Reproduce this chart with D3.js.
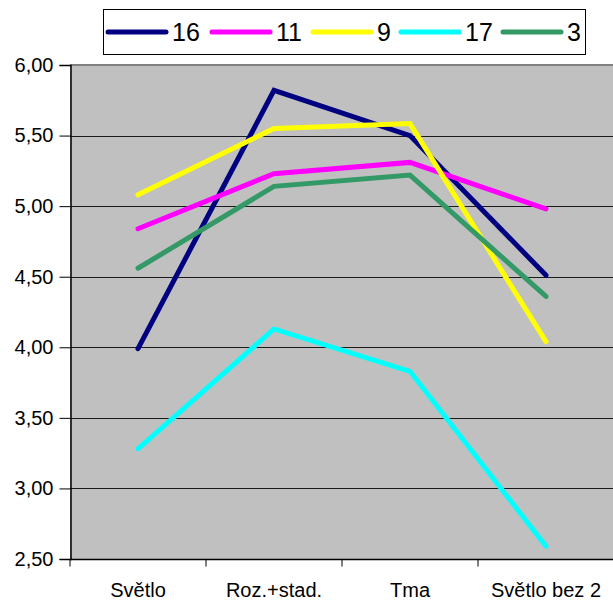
<!DOCTYPE html>
<html>
<head>
<meta charset="utf-8">
<script src="https://cdn.jsdelivr.net/npm/d3@7"></script>
<style>
  body { margin: 0; background: #fff; }
  svg { display: block; font-family: "Liberation Sans", Arial, sans-serif; }
</style>
</head>
<body>
<div id="chart"></div>
<script>
// categories and series
const categories = ["Světlo", "Roz.+stad.", "Tma", "Světlo bez 2"];
const seriesNames = ["16", "11", "9", "17", "3"];
const seriesColors = ["#000080", "#FF00FF", "#FFFF00", "#00FFFF", "#339966"];
const s16 = [3.99, 5.82, 5.50, 4.51];
const s11 = [4.84, 5.23, 5.31, 4.98];
const s9 = [5.08, 5.55, 5.585, 4.04];
const s17 = [3.28, 4.13, 3.83, 2.59];
const s3 = [4.56, 5.14, 5.22, 4.36];
const yTicks = [2.5, 3, 3.5, 4, 4.5, 5, 5.5, 6];

const seriesValues = [s16, s11, s9, s17, s3];

const width = 613, height = 600;
const plot = { left: 70, right: 614, top: 65, bottom: 559 };

const svg = d3.select("#chart").append("svg")
    .attr("width", width)
    .attr("height", height);

const x = d3.scaleBand()
    .domain(categories)
    .range([plot.left, plot.right])
    .padding(0);

const y = d3.scaleLinear()
    .domain([2.5, 6])
    .range([plot.bottom, plot.top]);

const fmt = v => v.toFixed(2).replace(".", ",");

// plot background
svg.append("rect")
    .attr("x", plot.left)
    .attr("y", plot.top)
    .attr("width", plot.right - plot.left)
    .attr("height", plot.bottom - plot.top)
    .attr("fill", "#C0C0C0");

// gridlines
svg.append("g")
    .selectAll("line")
    .data(yTicks.filter(d => d > 2.5 && d < 6))
    .join("line")
    .attr("x1", plot.left)
    .attr("x2", plot.right)
    .attr("y1", d => Math.round(y(d)) + 0.5)
    .attr("y2", d => Math.round(y(d)) + 0.5)
    .attr("stroke", "#1a1a1a")
    .attr("stroke-width", 1);

// top border of plot (grey)
svg.append("line")
    .attr("x1", plot.left)
    .attr("x2", plot.right)
    .attr("y1", y(6))
    .attr("y2", y(6))
    .attr("stroke", "#808080")
    .attr("stroke-width", 2);

// y axis
const yAxis = d3.axisLeft(y)
    .tickValues(yTicks)
    .tickFormat(fmt)
    .tickSize(11)
    .tickPadding(6);

const yG = svg.append("g")
    .attr("transform", `translate(${plot.left + 0.5},0)`)
    .call(yAxis);
yG.select(".domain").attr("stroke", "#000").attr("stroke-width", 1.5);
yG.selectAll(".tick line").attr("stroke", "#000");
yG.selectAll(".tick text")
    .attr("font-size", 20)
    .attr("font-family", "Liberation Sans, Arial, sans-serif")
    .attr("fill", "#000");

// x axis: ticks at category boundaries, labels centred
const xG = svg.append("g")
    .attr("transform", `translate(0,${plot.bottom + 0.5})`);
xG.append("line")
    .attr("x1", plot.left)
    .attr("x2", plot.right)
    .attr("stroke", "#000")
    .attr("stroke-width", 1.5);
xG.selectAll(".bnd")
    .data(categories.concat([null]))
    .join("line")
    .attr("class", "bnd")
    .attr("x1", (d, i) => plot.left + i * x.bandwidth())
    .attr("x2", (d, i) => plot.left + i * x.bandwidth())
    .attr("y1", 0)
    .attr("y2", 7)
    .attr("stroke", "#000");
xG.selectAll(".lbl")
    .data(categories)
    .join("text")
    .attr("class", "lbl")
    .attr("x", d => x(d) + x.bandwidth() / 2)
    .attr("y", 37)
    .attr("text-anchor", "middle")
    .attr("font-size", 20)
    .attr("fill", "#000")
    .text(d => d);

// series lines
const line = d3.line()
    .x((d, i) => x(categories[i]) + x.bandwidth() / 2)
    .y(d => y(d));

svg.append("g")
    .selectAll("path")
    .data(seriesValues)
    .join("path")
    .attr("d", d => line(d))
    .attr("fill", "none")
    .attr("stroke", (d, i) => seriesColors[i])
    .attr("stroke-width", 5)
    .attr("stroke-linejoin", "miter")
    .attr("stroke-linecap", "round");

// legend
const legend = svg.append("g");
legend.append("rect")
    .attr("x", 103.5)
    .attr("y", 9.5)
    .attr("width", 482)
    .attr("height", 45)
    .attr("fill", "#fff")
    .attr("stroke", "#000")
    .attr("stroke-width", 1);

const legendX = [108, 212, 313, 401, 503];
const items = legend.selectAll(".item")
    .data(seriesNames)
    .join("g")
    .attr("class", "item")
    .attr("transform", (d, i) => `translate(${legendX[i]},32)`);
items.append("line")
    .attr("x1", 0)
    .attr("x2", 58)
    .attr("stroke", (d, i) => seriesColors[i])
    .attr("stroke-width", 5)
    .attr("stroke-linecap", "round");
items.append("text")
    .attr("x", 64)
    .attr("y", 9)
    .attr("font-size", 25)
    .attr("fill", "#000")
    .text(d => d);
</script>
</body>
</html>
